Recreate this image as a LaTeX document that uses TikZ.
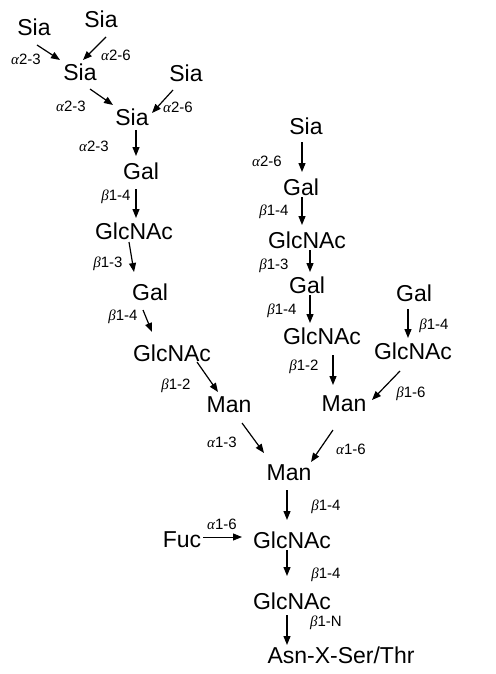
\documentclass[tikz,border=0pt]{standalone}
\usepackage{fontspec}
\setmainfont{Liberation Sans}
\newfontfamily\grk{Liberation Serif}
\usetikzlibrary{arrows.meta}
\newcommand{\al}{{\grk\itshape α}}
\newcommand{\be}{{\grk\itshape β}}
\tikzset{
  sugar/.style={inner sep=0pt, font=\fontsize{23}{27}\selectfont},
  lnk/.style={inner sep=0pt, font=\fontsize{15}{18}\selectfont},
  arr/.style={line width=1.2pt, -{Triangle[length=9pt,width=7pt]}},
}
\begin{document}
\begin{tikzpicture}[x=1pt,y=-1pt]
\useasboundingbox[fill=white] (0,0) rectangle (495,674);
% sugars
\node[sugar] (S1) at (34,27) {Sia};
\node[sugar] (S2) at (101,19) {Sia};
\node[sugar] (S3) at (80,72) {Sia};
\node[sugar] (S4) at (186,73) {Sia};
\node[sugar] (S5) at (132,117) {Sia};
\node[sugar] (GL1) at (141,171) {Gal};
\node[sugar] (NL1) at (134,231) {GlcNAc};
\node[sugar] (GL2) at (150,292) {Gal};
\node[sugar] (NL2) at (172,353) {GlcNAc};
\node[sugar] (ML) at (229,405) {Man};
\node[sugar] (SR) at (306,126) {Sia};
\node[sugar] (GR1) at (301,187) {Gal};
\node[sugar] (NR1) at (307,240) {GlcNAc};
\node[sugar] (GR2) at (307,285) {Gal};
\node[sugar] (NR2) at (322,336) {GlcNAc};
\node[sugar] (MR) at (344,404) {Man};
\node[sugar] (GRR) at (414,293) {Gal};
\node[sugar] (NRR) at (413,351) {GlcNAc};
\node[sugar] (MC) at (289,473) {Man};
\node[sugar] (Fuc) at (182,540) {Fuc};
\node[sugar] (NC1) at (292,540) {GlcNAc};
\node[sugar] (NC2) at (292,601) {GlcNAc};
\node[sugar] (Asn) at (341,655) {Asn-X-Ser/Thr};
% linkage labels
\node[lnk] (l1) at (26,59) {\al2-3};
\node[lnk] (l2) at (116,55) {\al2-6};
\node[lnk] (l3) at (71,106) {\al2-3};
\node[lnk] (l4) at (178,107) {\al2-6};
\node[lnk] (l5) at (94,146) {\al2-3};
\node[lnk] (l6) at (116,197) {\be1-4};
\node[lnk] (l7) at (108,264) {\be1-3};
\node[lnk] (l8) at (123,317) {\be1-4};
\node[lnk] (l9) at (176,386) {\be1-2};
\node[lnk] (l10) at (267,161) {\al2-6};
\node[lnk] (l11) at (274,212) {\be1-4};
\node[lnk] (l12) at (274,266) {\be1-3};
\node[lnk] (l13) at (282,311) {\be1-4};
\node[lnk] (l14) at (304,367) {\be1-2};
\node[lnk] (l15) at (434,326) {\be1-4};
\node[lnk] (l16) at (411,394) {\be1-6};
\node[lnk] (l17) at (222,442) {\al1-3};
\node[lnk] (l18) at (351,449) {\al1-6};
\node[lnk] (l19) at (326,507) {\be1-4};
\node[lnk] (l20) at (222,524) {\al1-6};
\node[lnk] (l21) at (326,575) {\be1-4};
\node[lnk] (l22) at (326,623) {\be1-N};
% connectors
\draw[arr] ([shift={(3,18)}]S1.center) -- ([shift={(-20,-12)}]S3.center);
\draw[arr] ([shift={(5,18)}]S2.center) -- ([shift={(3,-12)}]S3.center);
\draw[arr] ([shift={(10,17)}]S3.center) -- ([shift={(-19,-12)}]S5.center);
\draw[arr] ([shift={(-13,17)}]S4.center) -- ([shift={(20,-4)}]S5.center);
\draw[arr] ([shift={(4,13)}]S5.center) -- ([shift={(-5,-15)}]GL1.center);
\draw[arr] ([shift={(-5,18)}]GL1.center) -- ([shift={(2,-13)}]NL1.center);
\draw[arr] ([shift={(-5,11)}]NL1.center) -- ([shift={(-16,-20)}]GL2.center);
\draw[arr] ([shift={(-7,18)}]GL2.center) -- ([shift={(-20,-21)}]NL2.center);
\draw[arr] ([shift={(25,9)}]NL2.center) -- ([shift={(-11,-13)}]ML.center);
\draw[arr] ([shift={(13,18)}]ML.center) -- ([shift={(-25,-20)}]MC.center);
\draw[arr] ([shift={(-11,26)}]MR.center) -- ([shift={(22,-11)}]MC.center);
\draw[arr] ([shift={(-2,17)}]MC.center) -- ([shift={(-5,-20)}]NC1.center);
\draw[arr, line width=0.9pt] ([shift={(21,-3)}]Fuc.center) -- ([shift={(-50,-3)}]NC1.center);
\draw[arr] ([shift={(-5,10)}]NC1.center) -- ([shift={(-5,-25)}]NC2.center);
\draw[arr] ([shift={(-5,14)}]NC2.center) -- ([shift={(-54,-10)}]Asn.center);
\draw[arr] ([shift={(-4,16)}]SR.center) -- ([shift={(1,-15)}]GR1.center);
\draw[arr] ([shift={(1,10)}]GR1.center) -- ([shift={(-5,-15)}]NR1.center);
\draw[arr] ([shift={(3,10)}]NR1.center) -- ([shift={(3,-13)}]GR2.center);
\draw[arr] ([shift={(3,10)}]GR2.center) -- ([shift={(-12,-13)}]NR2.center);
\draw[arr] ([shift={(11,19)}]NR2.center) -- ([shift={(-11,-19)}]MR.center);
\draw[arr] ([shift={(-6,16)}]GRR.center) -- ([shift={(-5,-13)}]NRR.center);
\draw[arr] ([shift={(-13,20)}]NRR.center) -- ([shift={(28,-4)}]MR.center);
\end{tikzpicture}
\end{document}
